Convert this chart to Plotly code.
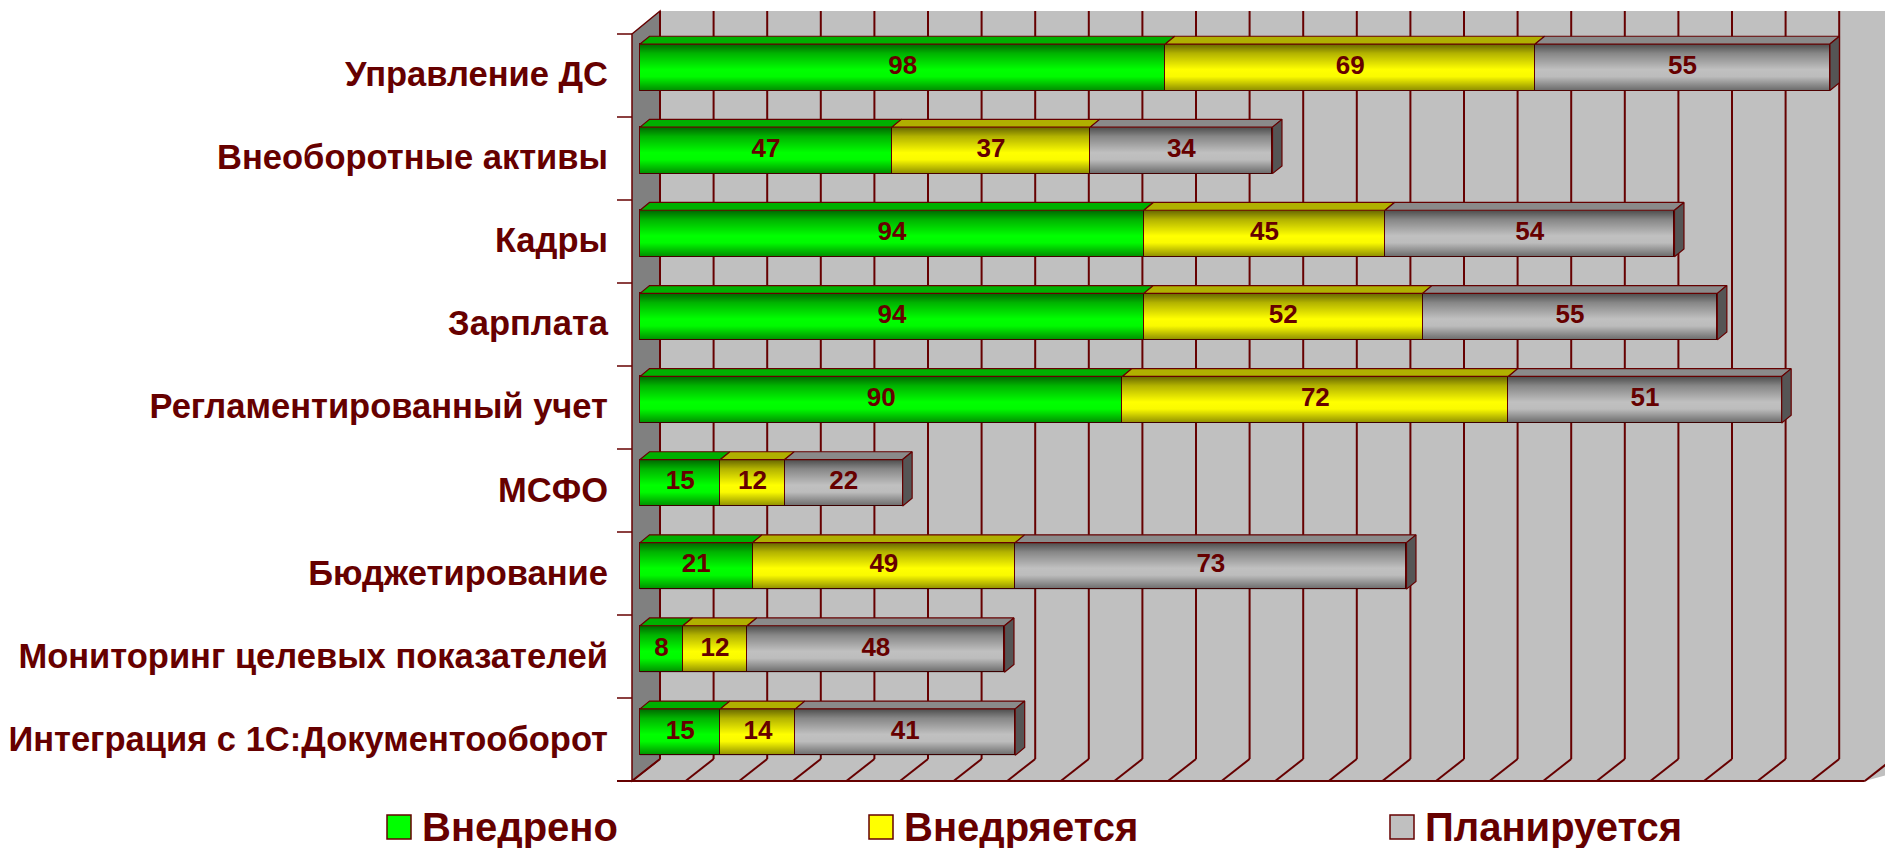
import plotly.graph_objects as go

# ---------------- data ----------------
categories = [
    "Управление ДС",
    "Внеоборотные активы",
    "Кадры",
    "Зарплата",
    "Регламентированный учет",
    "МСФО",
    "Бюджетирование",
    "Мониторинг целевых показателей",
    "Интеграция с 1С:Документооборот",
]
series_names = ["Внедрено", "Внедряется", "Планируется"]
vnedreno = [98, 47, 94, 94, 90, 15, 21, 8, 15]
vnedryaetsya = [69, 37, 45, 52, 72, 12, 49, 12, 14]
planiruetsya = [55, 34, 54, 55, 51, 22, 73, 48, 41]
axis_max = 230
grid_step = 10
grid_values = list(range(0, axis_max + 1, grid_step))

# ---------------- styles ----------------
front_colors = ["#00FF00", "#FFFF00", "#C0C0C0"]
top_colors = ["#00B000", "#B0B000", "#8A8A8A"]
side_color = "#555555"
edge = "#660000"
wall_color = "#C0C0C0"
left_wall_color = "#808080"
FONT = "Liberation Sans, Arial, sans-serif"

# ---------------- geometry (pixels -> data units) ----------------
FIG_W, FIG_H = 1885, 848
PLOT_L = 612
X0_PX, PX_X = 640.0, 5.36    # bar front plane: value 0 at 640 px
Y0_PX, PX_Y = 67.3, 83.1     # category 0 centre at 67.3 px, 83.1 px per category


def vx(px):
    return (px - X0_PX) / PX_X


def vy(py):
    return (py - Y0_PX) / PX_Y


def xp(px):
    return (px - PLOT_L) / (FIG_W - PLOT_L)


def yp(py):
    return 1 - py / FIG_H


BAR_W = 46.5 / PX_Y
BAR_DX = 9.5 / PX_X
BAR_DY = 7.8 / PX_Y
FRONT_X0 = vx(632)
BACK_X0 = vx(660)
FRONT_TOP, FRONT_BOT = vy(34), vy(781)
BACK_TOP, BACK_BOT = vy(11), vy(759)

series = [vnedreno, vnedryaetsya, planiruetsya]
ys = list(range(len(categories)))

fig = go.Figure()

# front faces (stacked bars)
for k, vals in enumerate(series):
    fig.add_trace(go.Bar(
        y=ys, x=vals, orientation="h", name=series_names[k], width=BAR_W,
        marker=dict(color=front_colors[k], line=dict(color=edge, width=1.5)),
        showlegend=False, hoverinfo="x+name",
    ))

totals = [sum(s[i] for s in series) for i in ys]

# cylindrical shading on front faces
for i in ys:
    t, b = i - BAR_W / 2, i + BAR_W / 2
    fig.add_trace(go.Scatter(
        x=[0, totals[i], totals[i], 0, 0], y=[t, t, b, b, t],
        mode="lines", line=dict(width=0), fill="toself",
        fillgradient=dict(
            type="vertical", start=t, stop=b,
            colorscale=[[0, "rgba(0,0,0,0.6)"], [0.2, "rgba(0,0,0,0.3)"],
                        [0.55, "rgba(0,0,0,0)"], [0.7, "rgba(0,0,0,0.02)"],
                        [1, "rgba(0,0,0,0.45)"]],
        ),
        hoverinfo="skip", showlegend=False,
    ))

# top faces of each segment
for k, vals in enumerate(series):
    px_, py_ = [], []
    for i in ys:
        a = sum(series[j][i] for j in range(k))
        b = a + vals[i]
        t = i - BAR_W / 2
        px_ += [a, a + BAR_DX, b + BAR_DX, b, a, None]
        py_ += [t, t - BAR_DY, t - BAR_DY, t, t, None]
    fig.add_trace(go.Scatter(
        x=px_, y=py_, mode="lines", fill="toself", fillcolor=top_colors[k],
        line=dict(color=edge, width=1.2), hoverinfo="skip", showlegend=False,
    ))

# right side faces
sx, sy = [], []
for i in ys:
    e = totals[i]
    t, b = i - BAR_W / 2, i + BAR_W / 2
    sx += [e, e + BAR_DX, e + BAR_DX, e, e, None]
    sy += [t, t - BAR_DY, b - BAR_DY, b, t, None]
fig.add_trace(go.Scatter(
    x=sx, y=sy, mode="lines", fill="toself", fillcolor=side_color,
    line=dict(color=edge, width=1.2), hoverinfo="skip", showlegend=False,
))

# data labels
lx, ly, lt = [], [], []
for k, vals in enumerate(series):
    for i in ys:
        a = sum(series[j][i] for j in range(k))
        lx.append(a + vals[i] / 2)
        ly.append(i)
        lt.append(str(vals[i]))
fig.add_trace(go.Scatter(
    x=lx, y=ly, text=lt, mode="text", textposition="middle center",
    textfont=dict(family=FONT, size=26, color=edge, weight="bold"),
    hoverinfo="skip", showlegend=False,
))

# ---------------- walls, floor, grid ----------------
shapes = []
# back wall
shapes.append(dict(type="rect", xref="x", yref="y", layer="below",
                   x0=BACK_X0, x1=BACK_X0 + axis_max + 10, y0=BACK_TOP, y1=BACK_BOT,
                   fillcolor=wall_color, line=dict(width=0)))
# floor
shapes.append(dict(type="path", xref="x", yref="y", layer="below",
                   path=f"M{FRONT_X0},{FRONT_BOT} L{BACK_X0},{BACK_BOT} "
                        f"L{BACK_X0 + axis_max + 10},{BACK_BOT} L{FRONT_X0 + axis_max},{FRONT_BOT} Z",
                   fillcolor=wall_color, line=dict(width=0)))
# left wall
shapes.append(dict(type="path", xref="x", yref="y", layer="below",
                   path=f"M{FRONT_X0},{FRONT_TOP} L{BACK_X0},{BACK_TOP} "
                        f"L{BACK_X0},{BACK_BOT} L{FRONT_X0},{FRONT_BOT} Z",
                   fillcolor=left_wall_color, line=dict(color=edge, width=1.5)))
# gridlines on back wall and floor
for g in grid_values:
    shapes.append(dict(type="line", xref="x", yref="y", layer="below",
                       x0=BACK_X0 + g, x1=BACK_X0 + g, y0=BACK_TOP, y1=BACK_BOT,
                       line=dict(color=edge, width=2)))
    shapes.append(dict(type="line", xref="x", yref="y", layer="below",
                       x0=BACK_X0 + g, x1=FRONT_X0 + g, y0=BACK_BOT, y1=FRONT_BOT,
                       line=dict(color=edge, width=2)))
# floor front edge
shapes.append(dict(type="line", xref="x", yref="y", layer="below",
                   x0=vx(617), x1=FRONT_X0 + axis_max, y0=FRONT_BOT, y1=FRONT_BOT,
                   line=dict(color=edge, width=2)))
# category tick marks
for k in range(len(categories) + 1):
    yk = FRONT_TOP + k * (FRONT_BOT - FRONT_TOP) / len(categories)
    shapes.append(dict(type="line", xref="x", yref="y", layer="below",
                       x0=vx(617), x1=FRONT_X0, y0=yk, y1=yk,
                       line=dict(color=edge, width=1.5)))

# ---------------- manual legend ----------------
annotations = []
legend_sq_px = [387, 869, 1390]
for k, name in enumerate(series_names):
    shapes.append(dict(type="rect", xref="paper", yref="paper",
                       x0=xp(legend_sq_px[k]), x1=xp(legend_sq_px[k] + 24),
                       y0=yp(839), y1=yp(815),
                       fillcolor=front_colors[k], line=dict(color=edge, width=1.5)))
    annotations.append(dict(xref="paper", yref="paper", x=xp(legend_sq_px[k] + 33), y=yp(827),
                            xanchor="left", yanchor="middle", showarrow=False, text=name,
                            font=dict(family=FONT, size=40, color=edge, weight="bold")))

label_offset = vy(74)
fig.update_layout(
    width=FIG_W, height=FIG_H,
    margin=dict(l=PLOT_L, r=0, t=0, b=0, pad=0),
    paper_bgcolor="white", plot_bgcolor="white",
    barmode="stack", bargap=0,
    shapes=shapes, annotations=annotations,
    showlegend=False,
    xaxis=dict(range=[vx(PLOT_L), vx(FIG_W)], visible=False, fixedrange=True),
    yaxis=dict(range=[vy(FIG_H), vy(0)], fixedrange=True,
               tickvals=[i + label_offset for i in ys], ticktext=categories,
               ticks="", showgrid=False, zeroline=False, showline=False,
               ticklabelstandoff=3,
               tickfont=dict(family=FONT, size=34.5, color=edge, weight="bold")),
)

fig.write_html(
    "out.html",
    config={"displayModeBar": False},
    post_script="document.body.style.margin='0';document.body.style.overflow='hidden';",
)
